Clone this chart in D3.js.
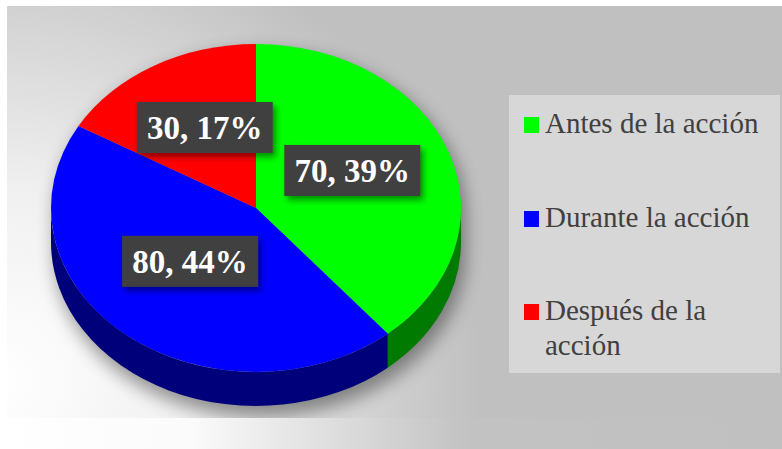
<!DOCTYPE html>
<html><head><meta charset="utf-8">
<script src="https://cdn.jsdelivr.net/npm/d3@7"></script>
<style>html,body{margin:0;padding:0;background:#fff;overflow:hidden} svg{display:block}</style>
</head><body><svg id="c" width="782" height="449"></svg>
<script>
// ---- data ----
const categories = ["Antes de la acción", "Durante la acción", "Después de la acción"];
const values = [70, 80, 30];
const topColors = ["#00ff00", "#0000ff", "#ff0000"];
const sideColors = ["#007a00", "#00007a", "#7a0000"];
const legendLines = [["Antes de la acción"], ["Durante la acción"], ["Después de la", "acción"]];

// ---- layout ----
const W = 782, H = 449;
const cx = 256, cy = 208, rx = 205, ry = 164, depth = 34;
const SERIF = '"Liberation Serif", "Tinos", "Times New Roman"';
const svg = d3.select("#c");
const defs = svg.append("defs");

const bg = defs.append("radialGradient").attr("id", "bgGrad")
  .attr("gradientUnits", "userSpaceOnUse").attr("cx", 0).attr("cy", 380).attr("r", 480);
bg.append("stop").attr("offset", "0%").attr("stop-color", "#ffffff");
bg.append("stop").attr("offset", "40%").attr("stop-color", "#f0f0f0");
bg.append("stop").attr("offset", "100%").attr("stop-color", "#c0c0c0");

const strip = defs.append("linearGradient").attr("id", "stripGrad")
  .attr("gradientUnits", "userSpaceOnUse").attr("x1", 0).attr("x2", W).attr("y1", 0).attr("y2", 0);
strip.append("stop").attr("offset", "0%").attr("stop-color", "#ffffff");
strip.append("stop").attr("offset", "24%").attr("stop-color", "#fbfbfb");
strip.append("stop").attr("offset", "60%").attr("stop-color", "#c2c2c2");
strip.append("stop").attr("offset", "100%").attr("stop-color", "#c0c0c0");

const blur = defs.append("filter").attr("id", "pieShadow").attr("x", "-20%").attr("y", "-20%").attr("width", "140%").attr("height", "140%");
blur.append("feGaussianBlur").attr("stdDeviation", 9);

const lblShadow = defs.append("filter").attr("id", "lblShadow").attr("x", "-20%").attr("y", "-30%").attr("width", "140%").attr("height", "160%");
lblShadow.append("feDropShadow").attr("dx", 3).attr("dy", 4).attr("stdDeviation", 3)
  .attr("flood-color", "#000").attr("flood-opacity", 0.45);

defs.append("clipPath").attr("id", "areaClip").append("rect")
  .attr("x", 7).attr("y", 6).attr("width", W - 7).attr("height", 412);

// background
svg.append("rect").attr("x", 7).attr("y", 6).attr("width", W - 7).attr("height", 412).attr("fill", "url(#bgGrad)");
svg.append("rect").attr("x", 7).attr("y", 418).attr("width", W - 7).attr("height", H - 418).attr("fill", "url(#stripGrad)");

// ---- pie ----
const total = d3.sum(values);
const pie = d3.pie().sort(null).value(d => d.v);
const arcsData = pie(values.map((v, i) => ({ v, i })));

const pt = (a, dy) => [cx + rx * Math.sin(a), cy - ry * Math.cos(a) + dy];

// shadow
const shadowG = svg.append("g").attr("clip-path", "url(#areaClip)");
shadowG.append("path")
  .attr("d", (() => {
    const l = pt(-Math.PI / 2, 0), r = pt(Math.PI / 2, 0);
    const lb = pt(-Math.PI / 2, depth + 4), rb = pt(Math.PI / 2, depth + 4);
    return `M${l}A${rx},${ry} 0 0 1 ${r}L${rb}A${rx},${ry} 0 0 1 ${lb}Z`;
  })())
  .attr("transform", "translate(4,7)")
  .attr("fill", "#000").attr("opacity", 0.4).attr("filter", "url(#pieShadow)");

// side faces
const side = svg.append("g");
arcsData.forEach(d => {
  const s = Math.max(d.startAngle, Math.PI / 2), e = Math.min(d.endAngle, 3 * Math.PI / 2);
  if (s >= e) return;
  const p0 = pt(s, 0), p1 = pt(e, 0), q1 = pt(e, depth), q0 = pt(s, depth);
  side.append("path")
    .attr("d", `M${p0}A${rx},${ry} 0 0 1 ${p1}L${q1}A${rx},${ry} 0 0 0 ${q0}Z`)
    .attr("fill", sideColors[d.data.i]);
});

// top faces
const arc = d3.arc().innerRadius(0).outerRadius(rx);
svg.append("g").attr("transform", `translate(${cx},${cy}) scale(1,${ry / rx})`)
  .selectAll("path").data(arcsData).join("path")
  .attr("d", arc).attr("fill", d => topColors[d.data.i]);

// labels
const lblG = svg.append("g");
arcsData.forEach(d => {
  const c = arc.centroid(d);
  const x = cx + c[0], y = cy + c[1] * ry / rx - 10;
  const g = lblG.append("g").attr("transform", `translate(${x},${y})`);
  g.append("rect").attr("x", -68).attr("y", -25).attr("width", 136).attr("height", 51)
    .attr("fill", "#404040").attr("filter", "url(#lblShadow)");
  g.append("text").attr("x", 0).attr("y", 12).attr("text-anchor", "middle")
    .style("font-family", SERIF).style("font-weight", "bold").style("font-size", "33px")
    .attr("fill", "#ffffff")
    .text(`${d.data.v}, ${Math.round(d.data.v / total * 100)}%`);
});

// ---- legend ----
svg.append("rect").attr("x", 509).attr("y", 95).attr("width", 271).attr("height", 278).attr("fill", "#d7d7d7");
const legBase = [133, 227, 320];
const leg = svg.append("g");
categories.forEach((c, i) => {
  leg.append("rect").attr("x", 524).attr("y", legBase[i] - 16).attr("width", 15).attr("height", 16)
    .attr("fill", topColors[i]);
  const t = leg.append("text").attr("x", 545).attr("y", legBase[i])
    .style("font-family", SERIF).style("font-size", "29px").attr("fill", "#404040");
  legendLines[i].forEach((ln, j) => {
    t.append("tspan").attr("x", 545).attr("dy", j === 0 ? 0 : 35).text(ln);
  });
});
</script></body></html>
